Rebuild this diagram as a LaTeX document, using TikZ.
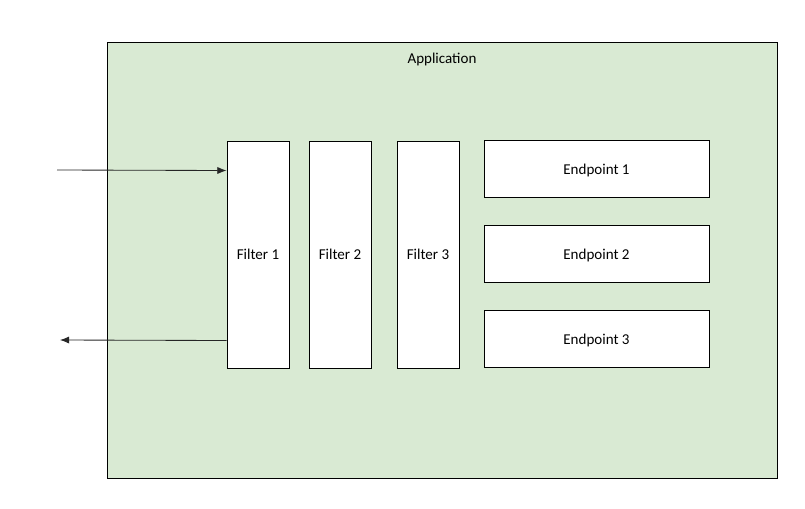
\documentclass[tikz,border=0pt]{standalone}
\usepackage{fontspec}
\setmainfont{Carlito}
\usetikzlibrary{arrows.meta, positioning}

\definecolor{appgreen}{RGB}{217,234,211}

\begin{document}
\begin{tikzpicture}[
    font=\fontsize{10.7}{13}\selectfont,
    % boxes
    app/.style={draw=black, fill=appgreen, line width=0.7pt, minimum width=16.75cm, minimum height=10.9cm},
    filt/.style={draw=black, fill=white, line width=0.7pt, minimum width=1.55cm, minimum height=5.675cm, text depth=0pt, align=center},
    endp/.style={draw=black, fill=white, line width=0.7pt, minimum width=5.625cm, minimum height=1.425cm, text depth=0pt, align=center},
    % connectors
    arr/.style={draw=black!85, line width=0.6pt, -{Latex[length=2.3mm,width=1.8mm]}}
]
\useasboundingbox (0,0) rectangle (20.125,-12.7);

% Application container
\node[app] (app) at (11.05, -6.5) {};
\node[text depth=0pt] (applbl) at (11.05, -1.45) {Application};

% Filters
\node[filt] (f1) at (6.45, -6.3625) {Filter 1};
\node[filt] (f2) at (8.5, -6.3625) {Filter 2};
\node[filt] (f3) at (10.7, -6.3625) {Filter 3};

% Endpoints
\node[endp] (e1) at (14.9125, -4.225) {Endpoint 1};
\node[endp] (e2) at (14.9125, -6.35) {Endpoint 2};
\node[endp] (e3) at (14.9125, -8.475) {Endpoint 3};

% Request in / response out
\coordinate (req) at (1.425, -4.25);
\coordinate (resp) at (1.5, -8.5);
\draw[arr] (req) -- ([yshift=-0.75cm]f1.north west);
\draw[arr] ([yshift=-5cm]f1.north west) -- (resp);

\end{tikzpicture}
\end{document}
